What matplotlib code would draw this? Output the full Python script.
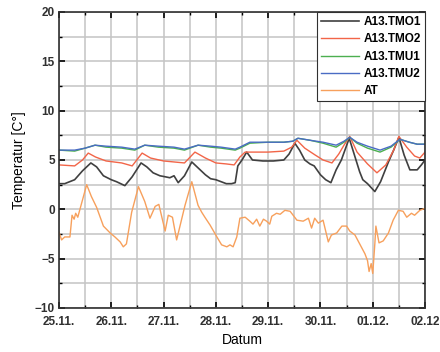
import numpy as np
import matplotlib.pyplot as plt
from matplotlib.ticker import MultipleLocator

# time in days since 25.11. 00:00
day_labels = ['25.11.', '26.11.', '27.11.', '28.11.', '29.11.', '30.11.', '01.12.', '02.12']

t_tmo1 = [0.0, 0.11, 0.3, 0.45, 0.61, 0.72, 0.85, 1.0, 1.1, 1.26, 1.4, 1.57, 1.68, 1.8, 1.93, 2.03, 2.12, 2.2, 2.28,
          2.4, 2.54, 2.66, 2.8, 2.9, 3.0, 3.1, 3.2, 3.3, 3.37, 3.42, 3.5, 3.59, 3.7, 3.9, 4.1, 4.3, 4.4, 4.51,
          4.6, 4.7, 4.8, 4.88, 5.0, 5.1, 5.2, 5.3, 5.4, 5.55, 5.65, 5.75, 5.81, 5.9, 6.04, 6.15, 6.3, 6.4, 6.5,
          6.6, 6.71, 6.85, 6.93, 7.0]
tmo1 = [2.6, 2.6, 3.0, 3.9, 4.7, 4.3, 3.4, 3.0, 2.8, 2.4, 3.3, 4.7, 4.3, 3.7, 3.4, 3.3, 3.2, 3.4, 2.7,
        3.4, 4.8, 4.2, 3.5, 3.1, 3.0, 2.8, 2.6, 2.6, 2.7, 4.4, 5.0, 5.8, 5.0, 4.9, 4.9, 5.0, 5.6, 6.7,
        6.0, 5.0, 4.6, 4.4, 3.5, 3.0, 2.7, 4.0, 5.0, 7.2, 5.5, 3.8, 3.0, 2.6, 1.8, 2.8, 4.8, 6.0, 7.3,
        5.5, 4.0, 4.0, 4.5, 5.0]

t_tmo2 = [0.0, 0.3, 0.45, 0.56, 0.7, 0.9, 1.2, 1.4, 1.59, 1.75, 2.0, 2.2, 2.4, 2.6, 2.8, 3.0, 3.2, 3.35,
          3.46, 3.56, 3.7, 4.0, 4.3, 4.45, 4.55, 4.7, 4.9, 5.05, 5.22, 5.35, 5.45, 5.56, 5.7, 5.9, 6.08,
          6.25, 6.4, 6.5, 6.65, 6.8, 6.9, 7.0]
tmo2 = [4.5, 4.4, 5.0, 5.7, 5.3, 4.9, 4.7, 4.4, 5.7, 5.2, 4.9, 4.8, 4.7, 5.8, 5.2, 4.7, 4.6, 4.5,
        5.3, 5.8, 5.8, 5.8, 5.9, 6.3, 7.0, 6.2, 5.5, 5.0, 4.7, 5.6, 6.5, 7.4, 5.8, 4.6, 3.7,
        4.5, 6.0, 7.4, 6.3, 5.4, 5.2, 5.8]

t_tmu = [0.0, 0.3, 0.5, 0.69, 0.9, 1.2, 1.45, 1.64, 1.9, 2.2, 2.4, 2.66, 2.9, 3.1, 3.37, 3.46, 3.65,
         4.0, 4.3, 4.47, 4.57, 4.8, 5.05, 5.3, 5.45, 5.56, 5.7, 5.9, 6.14, 6.35, 6.52, 6.7, 6.85, 7.0]
tmu1 = [6.0, 5.9, 6.2, 6.5, 6.3, 6.2, 6.0, 6.5, 6.3, 6.2, 6.0, 6.5, 6.3, 6.2, 6.0, 6.2, 6.7,
        6.8, 6.8, 6.9, 7.2, 7.0, 6.7, 6.3, 6.8, 7.3, 6.7, 6.2, 5.8, 6.3, 7.1, 6.8, 6.6, 6.6]
tmu2 = [6.0, 6.0, 6.2, 6.5, 6.4, 6.3, 6.1, 6.5, 6.4, 6.3, 6.1, 6.5, 6.4, 6.3, 6.1, 6.3, 6.8,
        6.8, 6.8, 6.9, 7.2, 7.0, 6.8, 6.5, 6.9, 7.3, 6.8, 6.4, 6.0, 6.4, 7.1, 6.8, 6.6, 6.6]

t_at = [0.0, 0.05, 0.11, 0.21, 0.25, 0.29, 0.32, 0.36, 0.53, 0.62, 0.72, 0.85, 0.98, 1.07, 1.17, 1.23,
        1.29, 1.39, 1.52, 1.64, 1.74, 1.84, 1.91, 2.03, 2.09, 2.17, 2.25, 2.41, 2.54, 2.66, 2.73, 2.79,
        2.89, 3.02, 3.11, 3.21, 3.27, 3.33, 3.40, 3.46, 3.56, 3.65, 3.71, 3.78, 3.84, 3.91, 3.97, 4.03,
        4.07, 4.16, 4.23, 4.32, 4.42, 4.55, 4.67, 4.77, 4.83, 4.89, 4.96, 5.05, 5.15, 5.21, 5.31, 5.41,
        5.50, 5.56, 5.66, 5.76, 5.85, 5.90, 5.93, 5.97, 6.00, 6.04, 6.06, 6.12, 6.20, 6.30, 6.39, 6.49,
        6.58, 6.65, 6.74, 6.80, 6.90, 7.0]
at = [-2.3, -3.1, -2.8, -2.8, -0.6, -1.0, -0.4, -0.8, 2.5, 1.3, 0.2, -1.7, -2.4, -2.8, -3.3, -3.8,
      -3.5, -0.3, 2.3, 0.8, -0.9, 0.3, 0.5, -2.2, -0.6, -0.8, -3.1, 0.4, 2.8, 0.4, -0.3, -0.8,
      -1.6, -2.8, -3.6, -3.8, -3.6, -3.8, -2.8, -0.9, -0.8, -1.2, -1.5, -1.0, -1.7, -1.0, -1.2, -1.5,
      -0.7, -0.4, -0.5, -0.1, -0.2, -1.1, -1.2, -0.9, -1.9, -0.9, -1.4, -1.1, -3.3, -2.6, -2.4, -1.7,
      -1.7, -2.2, -2.6, -3.6, -4.5, -5.2, -6.3, -5.5, -6.5, -3.5, -1.7, -3.4, -3.2, -2.4, -1.1, -0.1,
      -0.2, -0.8, -0.4, -0.6, -0.1, 0.1]

plt.rcParams['font.family'] = ['Liberation Sans', 'DejaVu Sans']

fig = plt.figure(figsize=(4.4, 3.52), dpi=100)
ax = fig.add_axes([0.134, 0.125, 0.832, 0.841])

ax.plot(t_tmo1, tmo1, color='#404040', lw=1.2, label='A13.TMO1')
ax.plot(t_tmo2, tmo2, color='#f26548', lw=1.0, label='A13.TMO2')
ax.plot(t_tmu, tmu1, color='#4caf50', lw=1.0, label='A13.TMU1')
ax.plot(t_tmu, tmu2, color='#4a6cc4', lw=1.0, label='A13.TMU2')
ax.plot(t_at, at, color='#f7a05c', lw=1.0, label='AT')

ax.set_xlim(0, 7)
ax.set_ylim(-10, 20)
ax.set_xticks(range(8))
ax.set_xticklabels(day_labels)
ax.xaxis.set_minor_locator(MultipleLocator(0.5))
ax.yaxis.set_major_locator(MultipleLocator(5))
ax.yaxis.set_minor_locator(MultipleLocator(2.5))
ax.grid(True, which='both', color='#c4c4c4', lw=1.1)
ax.set_axisbelow(True)
ax.tick_params(which='both', direction='in', top=True, right=True, labelsize=8.5)
ax.tick_params(axis='x', pad=6)
ax.tick_params(axis='y', pad=3)
ax.tick_params(which='major', length=4, width=1.2)
ax.tick_params(which='minor', length=2.5, width=1)
for lab in ax.get_xticklabels() + ax.get_yticklabels():
    lab.set_fontweight('bold')
    lab.set_color('#303030')
for s in ax.spines.values():
    s.set_linewidth(1.2)
    s.set_color('#303030')

ax.set_xlabel('Datum', fontsize=10, labelpad=3)
ax.set_ylabel('Temperatur [C°]', fontsize=10, labelpad=6)

leg = ax.legend(loc='upper right', fontsize=8.5, frameon=True, fancybox=False, framealpha=1,
                edgecolor='#303030', borderaxespad=0, handlelength=3.2, labelspacing=0.45,
                borderpad=0.35, handletextpad=0.4)
leg.get_frame().set_linewidth(0.8)
for txt in leg.get_texts():
    txt.set_fontweight('bold')

fig.savefig('out.png', dpi=100)
